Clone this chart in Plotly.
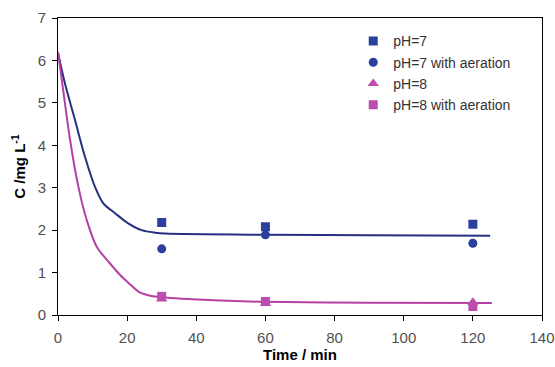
import plotly.graph_objects as go

# Sampling times (min) for the measured points
t_meas = [30, 60, 120]
ph7 = [2.18, 2.08, 2.14]
ph7_air = [1.56, 1.89, 1.69]
ph8 = [0.38, 0.27, 0.30]
ph8_air = [0.44, 0.32, 0.20]

# Fitted kinetic curves
t_fit7 = [0, 2.0, 4.9, 7.8, 10.7, 13.1, 16.5, 20.3, 24.2, 28.1, 31, 60, 90, 125]
c_fit7 = [6.18, 5.46, 4.60, 3.73, 3.02, 2.63, 2.40, 2.16, 2.0, 1.94, 1.92, 1.89, 1.88, 1.87]
t_fit8 = [0, 1.5, 3.5, 5.9, 8.3, 11.2, 15, 17.9, 20.5, 23.5, 27, 30, 45, 60, 90, 125.5]
c_fit8 = [6.2, 5.30, 4.12, 3.02, 2.24, 1.61, 1.22, 0.95, 0.75, 0.54, 0.45, 0.42, 0.35, 0.31, 0.29, 0.28]

blue = "#2B3F9E"
blue_line = "#27307F"
mag = "#BE4DB0"
mag_line = "#B440A4"

fig = go.Figure()
fig.add_trace(go.Scatter(x=t_fit7, y=c_fit7, mode="lines", line=dict(color=blue_line, width=2, shape="spline", smoothing=0.9), showlegend=False, hoverinfo="skip"))
fig.add_trace(go.Scatter(x=t_fit8, y=c_fit8, mode="lines", line=dict(color=mag_line, width=2, shape="spline", smoothing=0.9), showlegend=False, hoverinfo="skip"))
fig.add_trace(go.Scatter(x=t_meas, y=ph7, mode="markers", name="pH=7", marker=dict(symbol="square", size=9, color=blue)))
fig.add_trace(go.Scatter(x=t_meas, y=ph7_air, mode="markers", name="pH=7 with aeration", marker=dict(symbol="circle", size=9, color=blue)))
fig.add_trace(go.Scatter(x=t_meas, y=ph8, mode="markers", name="pH=8", marker=dict(symbol="triangle-up", size=10, color=mag)))
fig.add_trace(go.Scatter(x=t_meas, y=ph8_air, mode="markers", name="pH=8 with aeration", marker=dict(symbol="square", size=9, color=mag)))

axis_common = dict(showline=True, linecolor="black", linewidth=1, mirror=True, ticks="outside",
                   ticklen=5, tickcolor="black", showgrid=False, zeroline=False, automargin=False,
                   tickfont=dict(family="Liberation Sans, Arial", size=15, color="#505050"))

fig.update_layout(
    width=555, height=367,
    margin=dict(l=58, r=13, t=18, b=52),
    paper_bgcolor="white", plot_bgcolor="white",
    font=dict(family="Liberation Sans, Arial", size=12, color="#333333"),
    xaxis=dict(range=[0, 140], dtick=20, ticklabelstandoff=4,
               title=dict(text="<b>Time / min</b>", standoff=4, font=dict(size=15, color="black")),
               **axis_common),
    yaxis=dict(range=[0, 7], dtick=1, ticklabelstandoff=3,
               title=dict(text="<b>C /mg L<sup>-1</sup></b>", standoff=8, font=dict(size=15, color="black")),
               **axis_common),
    legend=dict(x=0.61, y=0.975, xanchor="left", yanchor="top", bgcolor="rgba(0,0,0,0)",
                font=dict(size=14, color="#333333"), itemwidth=30, tracegroupgap=0),
)

fig.write_html("out.html")
